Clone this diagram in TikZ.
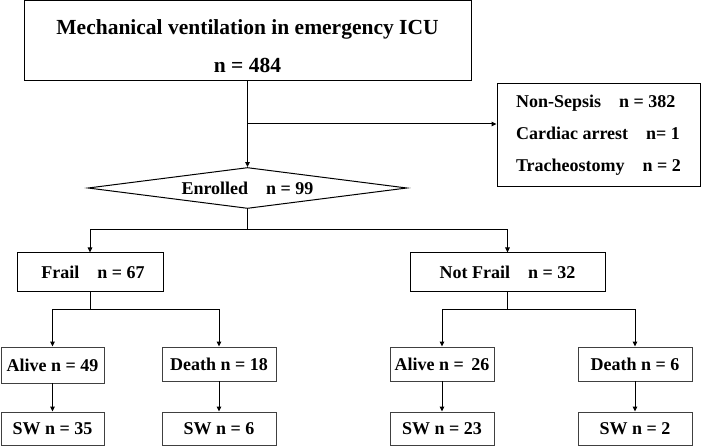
\documentclass[tikz,border=0pt]{standalone}
\usepackage{fontspec}
\setmainfont{Liberation Serif}
\usetikzlibrary{arrows.meta,shapes.geometric}

\begin{document}
\begin{tikzpicture}[x=1pt,y=-1pt,
    box/.style={draw, line width=1pt, inner sep=0pt, font=\bfseries\fontsize{18}{21}\selectfont},
    small/.style={box, draw=black!75, line width=0.9pt},
    arr/.style={-{Triangle[length=5pt,width=4.5pt]}, line width=1pt}]
    \useasboundingbox (0,0) rectangle (709,446);
    \node [box, minimum width=447pt, minimum height=80pt, align=center,
      font=\bfseries\fontsize{21.5}{38}\selectfont] (mv) at (247.5,41) {\rule{0pt}{26pt}Mechanical ventilation in emergency ICU\\n = 484};
    \node [box, minimum width=203pt, minimum height=103pt, align=left,
      font=\bfseries\fontsize{18}{32}\selectfont] (excl) at (598.5,135.5)
      {Non-Sepsis\quad n = 382\\Cardiac arrest\quad n= 1\\Tracheostomy\quad n = 2};
    \node [box, diamond, aspect=7.8, minimum width=319pt, minimum height=41pt] (enr) at (247.5,188) {Enrolled\quad n = 99};
    \node [box, minimum width=146pt, minimum height=38pt] (frail) at (90,272) {\hspace{6pt}Frail\quad n = 67};
    \node [box, minimum width=195pt, minimum height=38pt] (nfrail) at (507.5,272) {Not Frail\quad n = 32};
    \node [small, minimum width=103pt, minimum height=36pt] (fa) at (52.5,365) {Alive n = 49};
    \node [small, minimum width=114pt, minimum height=34pt] (fd) at (219,364) {Death n = 18};
    \node [small, minimum width=103pt, minimum height=33pt] (fas) at (52.5,428.5) {SW n = 35};
    \node [small, minimum width=114pt, minimum height=33pt] (fds) at (219,428.5) {SW n = 6};
    \node [small, minimum width=104pt, minimum height=34pt] (na) at (442,364) {Alive n = \,26};
    \node [small, minimum width=114pt, minimum height=34pt] (nd) at (635,364) {Death n = 6};
    \node [small, minimum width=104pt, minimum height=33pt] (nas) at (442,428.5) {SW n = 23};
    \node [small, minimum width=114pt, minimum height=33pt] (nds) at (635,428.5) {SW n = 2};

    \coordinate (j0) at (247.5,124);
    \coordinate (j1) at (247.5,230);
    \coordinate (j2) at (90,309);
    \coordinate (j3) at (507.5,309);

    \draw [arr] (mv) -- (enr);
    \draw [arr] (j0) -- (j0 -| excl.west);
    \draw [line width=1pt] (enr) -- (j1);
    \draw [arr] (j1) -| (frail);
    \draw [arr] (j1) -| (nfrail);
    \draw [line width=1pt] (frail) -- (j2);
    \draw [arr] (j2) -| (fa);
    \draw [arr] (j2) -| (fd);
    \draw [line width=1pt] (nfrail) -- (j3);
    \draw [arr] (j3) -| (na);
    \draw [arr] (j3) -| (nd);
    \draw [arr] (fa) -- (fas);
    \draw [arr] (fd) -- (fds);
    \draw [arr] (na) -- (nas);
    \draw [arr] (nd) -- (nds);
  \end{tikzpicture}
\end{document}
